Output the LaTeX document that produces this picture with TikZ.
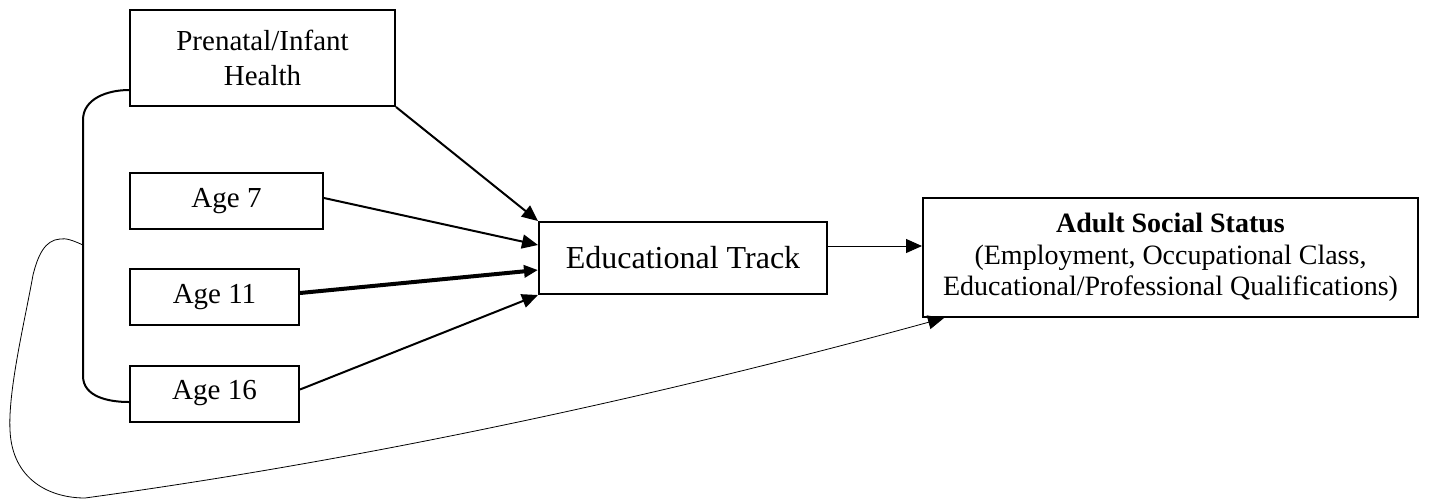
\documentclass[tikz,border=0pt]{standalone}
\usepackage{fontspec}
\setmainfont{Liberation Serif}
\usetikzlibrary{arrows.meta}
\begin{document}
\begin{tikzpicture}[x=0.5pt,y=-0.5pt,
  box/.style={draw,line width=1pt,inner sep=0pt,align=center},
  agebox/.style={box,font=\fontsize{14.5}{17.5}\selectfont},
  arr/.style={line width=1pt,-{Triangle[length=8pt,width=7pt]}},
  thickarr/.style={line width=2pt,-{Triangle[length=7pt,width=6pt]}},
  thinarr/.style={line width=0.5pt,-{Triangle[length=8pt,width=7pt]}},
  curvearr/.style={line width=0.4pt,-{Triangle[length=8pt,width=7pt]}}]
\useasboundingbox (0,0) rectangle (1455,499);
\node[agebox,minimum width=132.5pt,minimum height=48pt] (pre) at (262.5,58) {Prenatal/Infant\\Health};
\node[agebox,minimum width=96.5pt,minimum height=28pt] (a7) at (226.5,201) {Age 7};
\node[agebox,minimum width=84.5pt,minimum height=28pt] (a11) at (214.5,297) {Age 11};
\node[agebox,minimum width=84.5pt,minimum height=28pt] (a16) at (214.5,393.5) {Age 16};
\node[box,font=\fontsize{16}{19}\selectfont,minimum width=144pt,minimum height=36pt] (edu) at (683,258) {Educational Track};
\node[box,font=\fontsize{14}{15.8}\selectfont,minimum width=247.5pt,minimum height=59.5pt] (adult) at (1170.5,257.5)
  {\textbf{Adult Social Status}\\(Employment, Occupational Class,\\Educational/Professional Qualifications)};
% bracket
\coordinate (bt) at (83,120);
\coordinate (bb) at (83,376);
\coordinate (bc) at (83,245);
\draw[line width=1pt] ([yshift=-16pt]pre.west) to[out=180,in=90] (bt) -- (bb) to[out=-90,in=180] ([yshift=-4.25pt]a16.west);
% arrows
\draw[arr] (pre.south east) -- (edu.north west);
\draw[arr] ([yshift=1.5pt]a7.east) -- ([yshift=6.5pt]edu.west);
\draw[thickarr] ([yshift=2pt]a11.east) -- ([yshift=-6pt]edu.west);
\draw[arr] ([yshift=2pt]a16.east) -- (edu.south west);
\draw[thinarr] ([yshift=6pt]edu.east) -- ([yshift=6pt]edu.east -| adult.west);
\coordinate (ce) at ([xshift=11pt]adult.south west);
\draw[curvearr] (bc) .. controls (72,240) and (66,238) .. (60,239)
  .. controls (45,240) and (38,255) .. (33,275)
  .. controls (25,320) and (8,390) .. (10,430)
  .. controls (12,480) and (50,498) .. (85,498)
  .. controls (400,455) and (700,385) .. (ce);
\end{tikzpicture}
\end{document}
